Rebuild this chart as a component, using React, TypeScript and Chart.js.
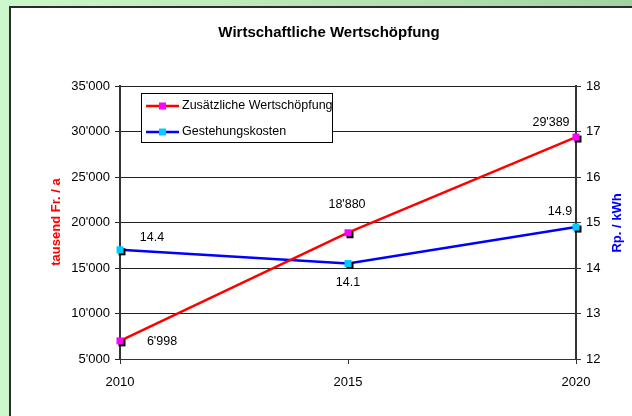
import React, { useEffect, useRef } from 'react';
import { Chart, registerables } from 'chart.js';

Chart.register(...registerables);

const years = ['2010', '2015', '2020'];
const wertschoepfung = [6998, 18880, 29389];
const gestehungskosten = [14.4, 14.1, 14.9];
const seriesNames = ['Zusätzliche Wertschöpfung', 'Gestehungskosten'];
const chartTitle = 'Wirtschaftliche Wertschöpfung';
const leftAxisTitle = 'tausend Fr. / a';
const rightAxisTitle = 'Rp. / kWh';
const leftMin = 5000;
const leftMax = 35000;
const leftStep = 5000;
const rightMin = 12;
const rightMax = 18;
const rightStep = 1;

// label offsets (dx, dy) from each point, per series
const labelOffsets = [
  [[42, 1], [-1, -28], [-25, -15]],
  [[32, -12], [0, 19], [-16, -16]],
];

const FONT = "'Liberation Sans', Arial, sans-serif";

const fmtThousands = (v: number) => {
  if (Math.abs(v) >= 1000) {
    const s = Math.round(v).toString();
    return s.replace(/\B(?=(\d{3})+(?!\d))/g, "'");
  }
  return String(v);
};

function makeMarker(color: string, shadow: boolean) {
  const c = document.createElement('canvas');
  c.width = 13;
  c.height = 13;
  const ctx = c.getContext('2d')!;
  if (shadow) {
    ctx.fillStyle = '#000';
    ctx.fillRect(5, 5, 7, 7);
  }
  ctx.fillStyle = color;
  ctx.fillRect(3, 3, 7, 7);
  return c;
}

const decorPlugin = {
  id: 'decor',
  beforeDraw(chart: any) {
    const { ctx, width, height } = chart;
    ctx.save();
    const g = ctx.createLinearGradient(0, 0, width, 0);
    g.addColorStop(0, '#ccf8cc');
    g.addColorStop(1, '#a2d2a2');
    ctx.fillStyle = g;
    ctx.fillRect(0, 0, width, height);
    ctx.fillStyle = '#2b2b2b';
    ctx.fillRect(9, 6, width - 9, height - 6);
    ctx.fillStyle = '#ffffff';
    ctx.fillRect(11, 8, width - 11, height - 8);
    ctx.restore();
  },
  afterDraw(chart: any) {
    const { ctx } = chart;
    ctx.save();
    // title
    ctx.fillStyle = '#000';
    ctx.font = `bold 15px ${FONT}`;
    ctx.textAlign = 'center';
    ctx.textBaseline = 'middle';
    ctx.fillText(chartTitle, 329, 33);
    // axis titles
    ctx.save();
    ctx.translate(56, 222);
    ctx.rotate(-Math.PI / 2);
    ctx.fillStyle = '#ff0000';
    ctx.font = `bold 13px ${FONT}`;
    ctx.fillText(leftAxisTitle, 0, 0);
    ctx.restore();
    ctx.save();
    ctx.translate(617, 223);
    ctx.rotate(-Math.PI / 2);
    ctx.fillStyle = '#0000ff';
    ctx.font = `bold 13px ${FONT}`;
    ctx.fillText(rightAxisTitle, 0, 0);
    ctx.restore();

    // data labels
    ctx.font = `12.5px ${FONT}`;
    ctx.fillStyle = '#000';
    ctx.textAlign = 'center';
    ctx.textBaseline = 'middle';
    chart.data.datasets.forEach((ds: any, di: number) => {
      const meta = chart.getDatasetMeta(di);
      meta.data.forEach((pt: any, i: number) => {
        const v = ds.data[i];
        const txt = di === 0 ? fmtThousands(v) : v.toFixed(1);
        const [dx, dy] = labelOffsets[di][i];
        ctx.fillText(txt, pt.x + dx, pt.y + dy);
      });
    });

    // legend
    const lx = 141.5, ly = 93.5, lw = 191, lh = 49;
    ctx.fillStyle = '#fff';
    ctx.fillRect(lx, ly, lw, lh);
    ctx.strokeStyle = '#000';
    ctx.lineWidth = 1;
    ctx.strokeRect(lx, ly, lw, lh);
    const rows = [106, 132];
    chart.data.datasets.forEach((ds: any, di: number) => {
      const y = rows[di];
      ctx.strokeStyle = ds.borderColor;
      ctx.lineWidth = 2.5;
      ctx.beginPath();
      ctx.moveTo(146, y);
      ctx.lineTo(179, y);
      ctx.stroke();
      ctx.fillStyle = ds.markerColor;
      ctx.fillRect(159, y - 3.5, 7, 7);
      ctx.fillStyle = '#000';
      ctx.textAlign = 'left';
      ctx.font = `12.5px ${FONT}`;
      ctx.fillText(ds.label, 182, y);
    });
    ctx.restore();
  },
};

export default function App() {
  const ref = useRef<HTMLCanvasElement | null>(null);
  useEffect(() => {
    if (!ref.current) return;
    Chart.defaults.font.family = FONT;
    Chart.defaults.font.size = 13;
    Chart.defaults.color = '#000';
    const chart = new Chart(ref.current, {
      type: 'line',
      data: {
        labels: years,
        datasets: [
          {
            label: seriesNames[0],
            data: wertschoepfung,
            borderColor: '#ff0000',
            borderWidth: 2.5,
            pointStyle: makeMarker('#ff00ff', true) as any,
            markerColor: '#ff00ff',
            yAxisID: 'y',
            tension: 0,
          } as any,
          {
            label: seriesNames[1],
            data: gestehungskosten,
            borderColor: '#0000ff',
            borderWidth: 2.5,
            pointStyle: makeMarker('#00ccff', true) as any,
            markerColor: '#00ccff',
            yAxisID: 'y1',
            tension: 0,
          } as any,
        ],
      },
      options: {
        responsive: false,
        animation: false,
        devicePixelRatio: 1,
        layout: { padding: { top: 86, left: 0, right: 0, bottom: 0 } },
        plugins: {
          legend: { display: false },
          title: { display: false },
          tooltip: { enabled: false },
        },
        scales: {
          x: {
            type: 'category',
            offset: false,
            grid: { drawOnChartArea: false, drawTicks: true, tickLength: 5, color: '#333' },
            border: { color: '#333', width: 1 },
            ticks: { padding: 11, color: '#000', font: { size: 13 }, maxRotation: 0 },
            afterFit: (s: any) => { s.height = 57; },
          },
          y: {
            position: 'left',
            min: leftMin,
            max: leftMax,
            grid: { color: '#222', lineWidth: 1, tickLength: 5 },
            border: { color: '#333', width: 2 },
            ticks: { stepSize: leftStep, padding: 5, color: '#000', font: { size: 13 }, callback: (v: any) => fmtThousands(Number(v)) },
            afterFit: (s: any) => { s.width = 120; },
          },
          y1: {
            position: 'right',
            min: rightMin,
            max: rightMax,
            grid: { drawOnChartArea: false, tickLength: 5, color: '#333' },
            border: { color: '#333', width: 2 },
            ticks: { stepSize: rightStep, padding: 5, color: '#000', font: { size: 13 } },
            afterFit: (s: any) => { s.width = 56; },
          },
        },
      } as any,
      plugins: [decorPlugin],
    });
    return () => chart.destroy();
  }, []);
  return (
    <canvas
      ref={ref}
      width={632}
      height={416}
      style={{ position: 'fixed', left: 0, top: 0, width: 632, height: 416, display: 'block' }}
    />
  );
}
